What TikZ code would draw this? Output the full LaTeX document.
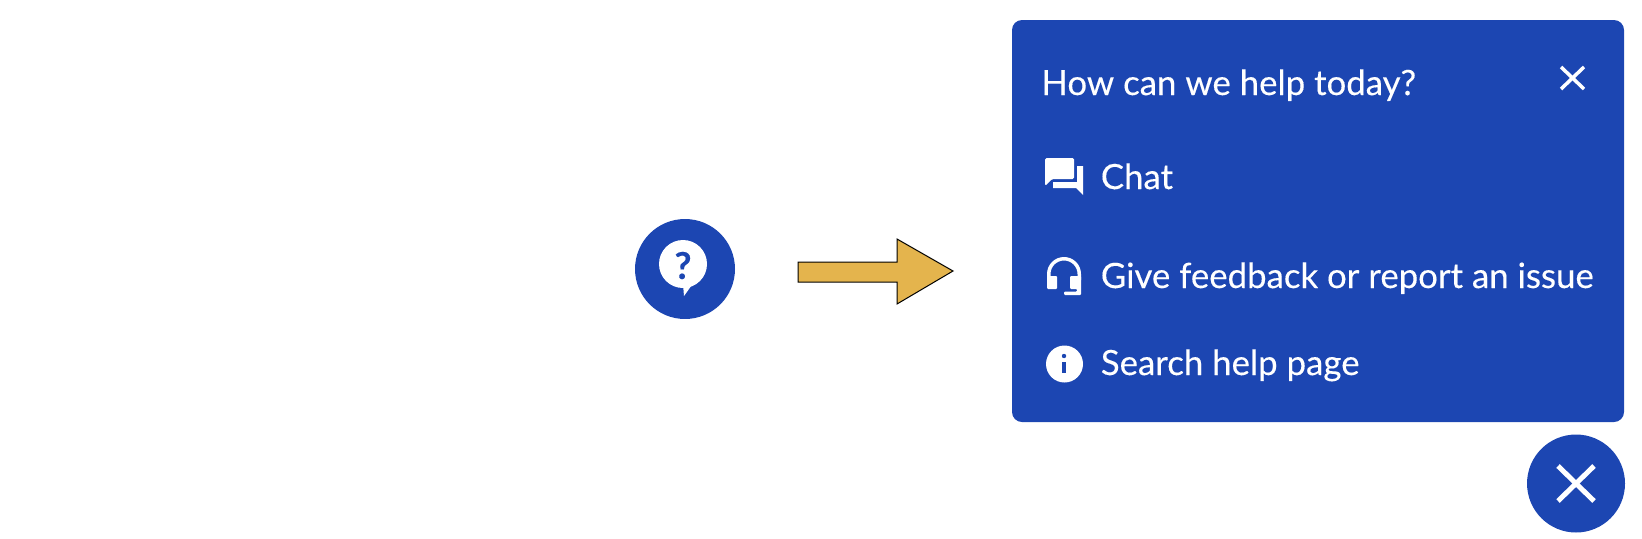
\documentclass[tikz,border=0pt]{standalone}
\usepackage{fontspec}
\setmainfont[FakeBold=0.25]{Lato}
\definecolor{panelblue}{RGB}{28,70,178}
\definecolor{arrowgold}{RGB}{228,180,77}
\begin{document}
\begin{tikzpicture}[line cap=round,line join=round,x=0.02cm,y=-0.02cm,
    menutext/.style={anchor=base west,inner sep=0pt,text=white,font=\fontsize{19.8}{22}\selectfont},
    bluedot/.style={circle,fill=panelblue,draw=none,inner sep=0pt,minimum size=1.96cm},
    crossline/.style={draw=white,line cap=butt}]
\useasboundingbox (0,0) rectangle (1642,538);

% panel
\fill[panelblue,rounded corners=0.2cm] (1012,20) rectangle (1624,422);
\node[menutext] (title) at (1041,95) {How can we help today?};
\node[menutext] (chat) at (1100.5,189) {Chat};
\node[menutext] (feedback) at (1100.5,288) {Give feedback or report an issue};
\node[menutext] (search) at (1100.5,375) {Search help page};

% panel close
\draw[crossline,line width=0.07cm] (1561,67)-- (1584,89);
\draw[crossline,line width=0.07cm] (1584,67)-- (1561,89);

% chat icon
\fill[white,rounded corners=0.03cm] (1045,158)-- (1074,158)-- (1074,179)-- (1052,179)-- (1045,186)-- cycle;
\fill[white] (1077,166)-- (1083,166)-- (1083,195)-- (1076,188)-- (1053,188)-- (1053,182)-- (1077,182)-- cycle;

% headset icon
\draw[white,line width=0.07cm,line cap=butt] (1048.75,280)-- (1048.75,274) arc (180:360:15.25)-- (1079.25,280);
\fill[white,rounded corners=0.02cm] (1047,276)-- (1057,276)-- (1057,289)-- (1047,289)-- cycle;
\fill[white,rounded corners=0.02cm] (1070,276)-- (1081,276)-- (1081,295)-- (1064,295)-- (1064,291.5)-- (1077,291.5)-- (1077,289)-- (1070,289)-- cycle;

% info icon
\fill[white] (1064.5,364) circle (18.5);
\fill[panelblue] (1064,356) circle (2.2);
\fill[panelblue] (1062,362) rectangle (1066,373);

% help button
\node[bluedot,minimum size=2cm] (help) at (685,269) {};
\fill[white] (683,264) circle (24);
\fill[white] (683,284)-- (694,282)-- (684,296)-- cycle;
\node[inner sep=0pt,text=panelblue,font=\bfseries\fontsize{21}{21}\selectfont] (mark) at (683,265.5) {?};

% arrow
\draw[fill=arrowgold,line width=0.02cm,color=black,fill=arrowgold,line join=miter] (798,262)-- (897,262)-- (897,239)-- (953,271)-- (897,304)-- (897,282)-- (798,282)-- cycle;

% close button
\node[bluedot] (close) at (1576,483.5) {};
\draw[crossline,line width=0.1cm] (1558,466)-- (1594,501);
\draw[crossline,line width=0.1cm] (1594,466)-- (1558,501);
\end{tikzpicture}
\end{document}
